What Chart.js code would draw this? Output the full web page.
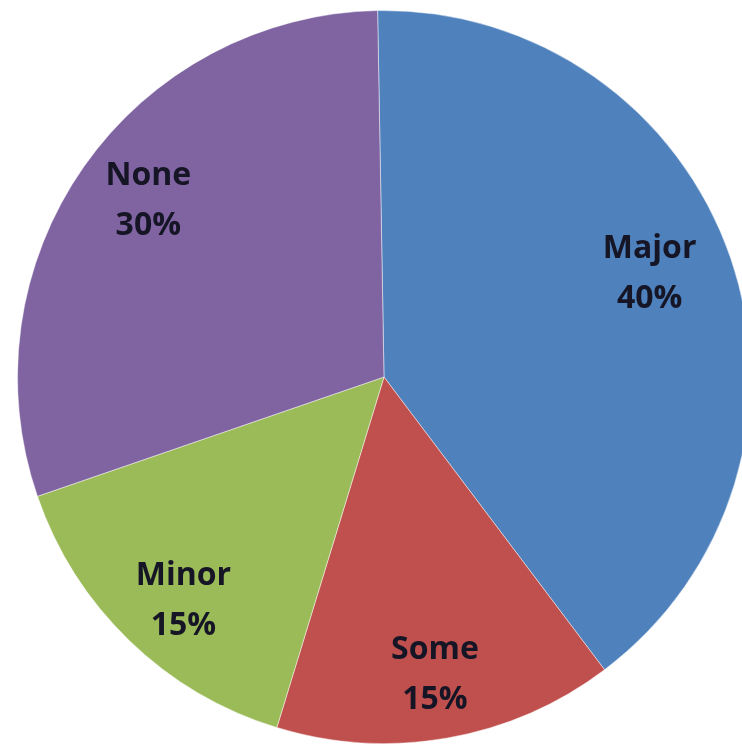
<!DOCTYPE html>
<html>
<head>
<meta charset="utf-8">
<script src="https://cdn.jsdelivr.net/npm/chart.js@4"></script>
<style>
  html, body { margin: 0; padding: 0; background: #ffffff; overflow: hidden; }
  #wrap { width: 770px; height: 744px; position: relative; }
</style>
</head>
<body>
<div id="wrap"><canvas id="c" width="770" height="744"></canvas></div>
<script>
const categories = ["Major", "Some", "Minor", "None"];
const percentValues = [40, 15, 15, 30];
const sliceColors = ["#4F81BD", "#C0504D", "#9BBB59", "#8064A2"];

// label placement (style): fraction of radius and angular nudge in degrees
const labelRadiusFraction = [0.778, 0.825, 0.821, 0.802];
const labelAngleNudge = [-2.3, 0.3, -2.2, 1.7];

const labelPlugin = {
  id: 'sliceLabels',
  afterDatasetsDraw(chart) {
    const ctx = chart.ctx;
    const meta = chart.getDatasetMeta(0);
    ctx.save();
    ctx.font = 'bold 32px "Open Sans", Lato, sans-serif';
    ctx.fillStyle = '#151525';
    ctx.textAlign = 'center';
    ctx.textBaseline = 'middle';
    meta.data.forEach((arc, i) => {
      const p = arc.getProps(['x', 'y', 'startAngle', 'endAngle', 'outerRadius'], true);
      const mid = (p.startAngle + p.endAngle) / 2 + labelAngleNudge[i] * Math.PI / 180;
      const r = p.outerRadius * labelRadiusFraction[i];
      const cx = p.x + Math.cos(mid) * r;
      const cy = p.y + Math.sin(mid) * r;
      ctx.fillText(categories[i], cx, cy - 25);
      ctx.fillText(percentValues[i] + '%', cx, cy + 25);
    });
    ctx.restore();
  }
};

new Chart(document.getElementById('c'), {
  type: 'pie',
  data: {
    labels: categories,
    datasets: [{
      data: percentValues,
      backgroundColor: sliceColors,
      borderColor: 'rgba(255,255,255,0.45)',
      borderWidth: 1
    }]
  },
  options: {
    responsive: false,
    animation: false,
    rotation: -1,
    layout: { padding: { left: 17, right: 19, top: 10, bottom: 0 } },
    plugins: {
      legend: { display: false },
      tooltip: { enabled: false }
    }
  },
  plugins: [labelPlugin]
});
</script>
</body>
</html>
